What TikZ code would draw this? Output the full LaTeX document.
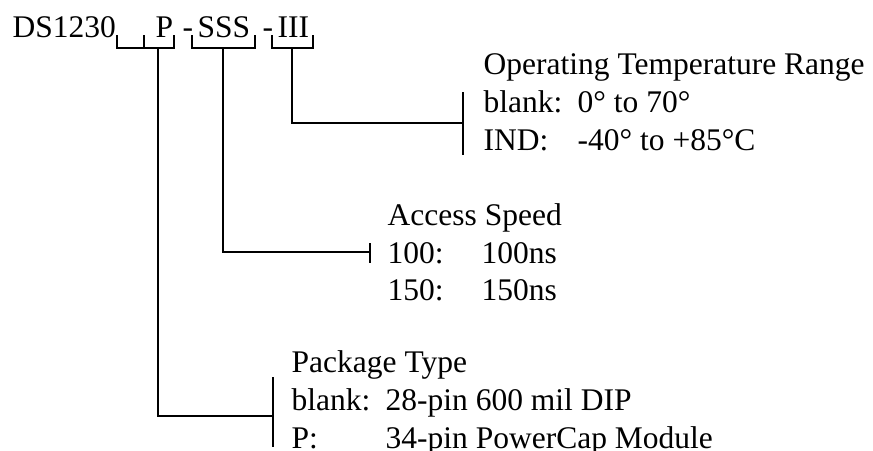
\documentclass[tikz,border=0pt]{standalone}
\usepackage{fontspec}
\setmainfont{Liberation Serif}
\usetikzlibrary{positioning}

\newcommand{\fld}[2]{\makebox[94pt][l]{#1}#2}

\begin{document}
\begin{tikzpicture}[x=1pt,y=-1pt,line width=1.4pt,
    txt/.style = {inner sep=0pt, anchor=base west, font=\fontsize{31.5}{38}\selectfont}]
        \useasboundingbox (0,0) rectangle (873,450);

        % part number
        \node[txt] (part) at (12,37) {DS1230};
        \node[txt] (pkg) at (155,37) {P};
        \node[txt] (d1) at (182,37) {-};
        \node[txt] (spd) at (197,37) {SSS};
        \node[txt] (d2) at (262,37) {-};
        \node[txt] (tmp) at (277,37) {III};

        % brackets under the fields
        \draw (117,35) -- (117,48) -- (144,48) -- (144,35);
        \draw (144,48) -- (174,48) -- (174,35);
        \draw (192,35) -- (192,48) -- (255,48) -- (255,35);
        \draw (272,35) -- (272,48) -- (313,48) -- (313,35);
        \coordinate (pkgB) at (158,48);
        \coordinate (spdB) at (223,48);
        \coordinate (tmpB) at (292,48);

        % temperature
        \node[txt] (tmpH) at (483,74) {Operating Temperature Range};
        \node[txt] (tmp1) at (483,112) {\fld{blank:}{0° to 70°}};
        \node[txt] (tmp2) at (483,150) {\fld{IND:}{-40° to +85°C}};
        \draw (463,92) -- (463,155);
        \coordinate (tmpT) at (463,123);

        % speed
        \node[txt] (spdH) at (387,225) {Access Speed};
        \node[txt] (spd1) at (387,263) {\fld{100:}{100ns}};
        \node[txt] (spd2) at (387,300) {\fld{150:}{150ns}};
        \draw (370,243) -- (370,263);
        \coordinate (spdT) at (370,252);

        % package
        \node[txt] (pkgH) at (291,372) {Package Type};
        \node[txt] (pkg1) at (291,410) {\fld{blank:}{28-pin 600 mil DIP}};
        \node[txt] (pkg2) at (291,448) {\fld{P:}{34-pin PowerCap Module}};
        \draw (273,377) -- (273,447);
        \coordinate (pkgT) at (273,416);

        \draw (tmpB) |- (tmpT);
        \draw (spdB) |- (spdT);
        \draw (pkgB) |- (pkgT);
\end{tikzpicture}
\end{document}
